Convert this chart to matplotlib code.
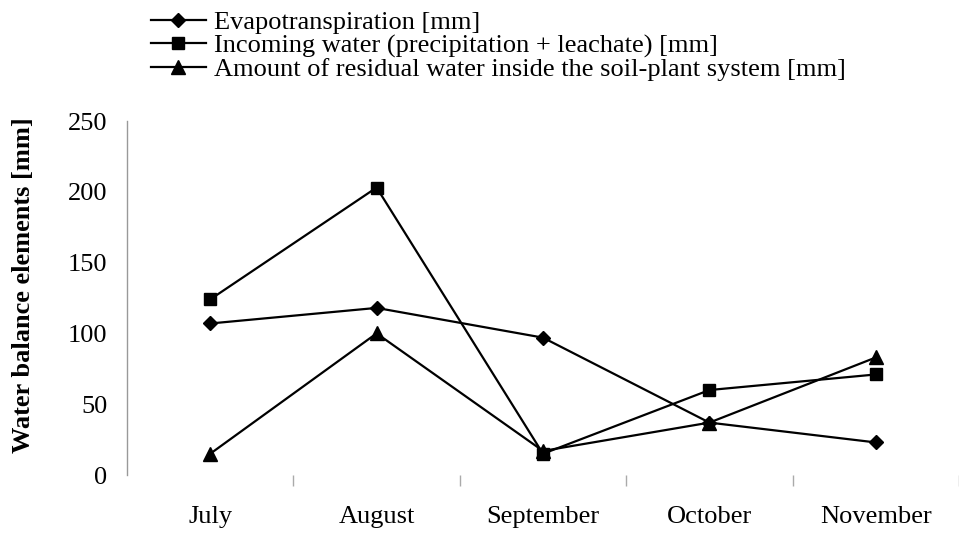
import numpy as np
import matplotlib.pyplot as plt

months = ['July', 'August', 'September', 'October', 'November']
evapotranspiration = [107, 118, 97, 37, 23]
incoming_water = [124, 203, 15, 60, 71]
residual_water = [15, 100, 17, 37, 83]

plt.rcParams['font.family'] = ['Liberation Serif', 'DejaVu Serif']

fig = plt.figure(figsize=(9.59, 5.45), dpi=100)
ax = fig.add_axes([127/959, 70/545, 832/959, 354/545])

x = np.arange(len(months))
l1, = ax.plot(x, evapotranspiration, 'k-', marker='D', markersize=7.5, linewidth=1.6)
l2, = ax.plot(x, incoming_water, 'k-', marker='s', markersize=8, linewidth=1.6)
l3, = ax.plot(x, residual_water, 'k-', marker='^', markersize=9.5, linewidth=1.6)

ax.set_xlim(-0.5, 4.5)
ax.set_ylim(0, 250)
ax.set_yticks([0, 50, 100, 150, 200, 250])
ax.set_xticks(x)
ax.set_xticklabels(months)
ax.set_xticks(np.arange(0.5, 5, 1), minor=True)
ax.tick_params(axis='x', which='major', length=0, pad=22, labelsize=19)
ax.tick_params(axis='x', which='minor', length=8, color='#aaaaaa', width=1)
ax.tick_params(axis='y', length=0, pad=14, labelsize=19)

for s in ['top', 'right', 'bottom']:
    ax.spines[s].set_visible(False)
ax.spines['left'].set_color('#999999')
ax.spines['left'].set_linewidth(1)

ax.set_ylabel('Water balance elements [mm]', fontsize=19, fontweight='bold')
ax.yaxis.set_label_coords(-0.111, 0.535)

fig.legend([l1, l2, l3],
           ['Evapotranspiration [mm]',
            'Incoming water (precipitation + leachate) [mm]',
            'Amount of residual water inside the soil-plant system [mm]'],
           loc='upper left', bbox_to_anchor=(140/959, 1.0), frameon=False,
           fontsize=19, handlelength=2.1, handletextpad=0.3,
           labelspacing=0.0, borderaxespad=0.0)

fig.savefig('out.png', dpi=100)
